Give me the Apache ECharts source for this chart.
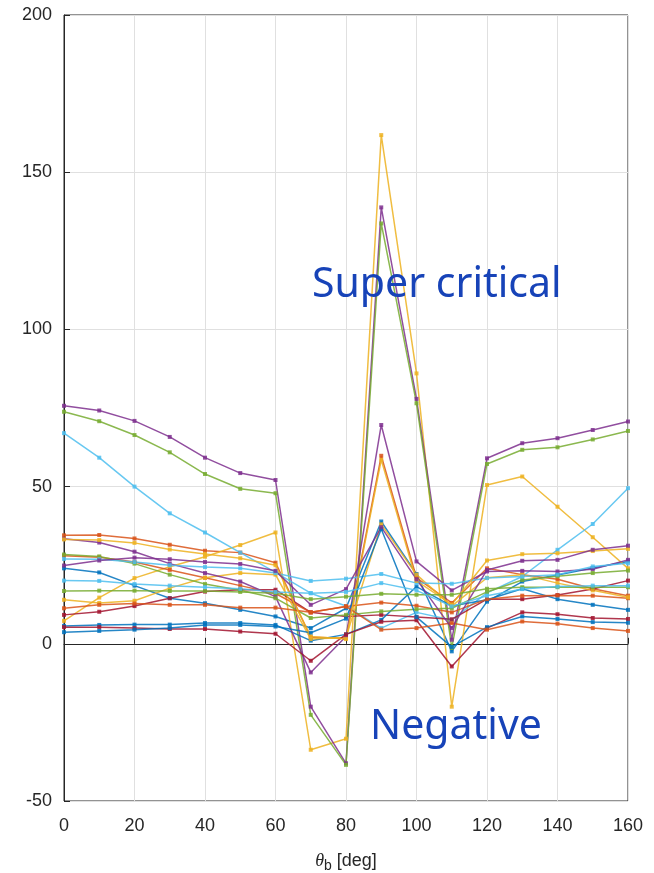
<!DOCTYPE html>
<html>
<head>
<meta charset="utf-8">
<script src="https://cdn.jsdelivr.net/npm/echarts@6/dist/echarts.min.js"></script>
<style>
  html, body { margin: 0; padding: 0; background: #fff; }
  #chart { width: 654px; height: 873px; }
</style>
</head>
<body>
<div id="chart"></div>
<script>
// 横轴角度
var thetaB = [0, 10, 20, 30, 40, 50, 60, 70, 80, 90, 100, 110, 120, 130, 140, 150, 160];
var yTicks = [-50, 0, 50, 100, 150, 200];

// 各曲线数据
var B1 = [24, 22.7, 18.5, 14.5, 12.9, 10.8, 8.7, 5, 11.3, 38.9, 22.2, -2.4, 13.4, 19.8, 21.9, 24.1, 26.2];
var O1 = [34.5, 34.6, 33.5, 31.5, 29.6, 29, 25.8, 2.1, 1.8, 59.8, 21, 13, 24, 22, 20.5, 17.5, 15.3];
var Y1 = [7.3, 14.7, 20.9, 24.5, 27.7, 31.4, 35.4, -33.7, -30.2, 161.8, 86, -20, 50.5, 53.2, 43.6, 33.9, 24];
var P1 = [75.7, 74.2, 70.9, 65.8, 59.2, 54.3, 52.1, -20, -38, 138.8, 77.9, 1.3, 59, 63.8, 65.4, 68, 70.7];
var G1 = [73.8, 70.8, 66.4, 60.9, 54, 49.3, 47.9, -22.6, -38.5, 133.7, 76.5, -1.3, 57.2, 61.7, 62.5, 65, 67.7];
var C1 = [67, 59.2, 50, 41.5, 35.4, 29, 22.7, 16.1, 12, 5, 10, 7.6, 16.2, 21.4, 29.9, 38.1, 49.5];
var R1 = [9.2, 10.2, 12, 14.5, 16.6, 17.2, 17.2, 10, 8.7, 9.2, 8.5, 7.8, 14.2, 14.2, 15.5, 17.4, 20.1];
var B2 = [5.7, 6, 6.1, 6.1, 6.6, 6.6, 6, 1, 3, 7.6, 18.2, 12, 14, 17.5, 14.2, 12.4, 10.8];
var O2 = [28, 27.5, 26, 23.5, 21, 18.5, 16, 10, 11.9, 13.1, 12.1, 10, 14.2, 15.3, 15.4, 15.3, 14.5];
var Y2 = [14, 13, 13.7, 17.7, 21, 22.5, 22, 1.5, 2, 38, 22, 12, 21, 22, 19.3, 17, 14.8];
var P2 = [33.4, 32.2, 29.3, 25.5, 22.5, 19.8, 15, -9.1, 2.3, 69.6, 26.2, 17, 23, 23.2, 23, 23.7, 26.7];
var G2 = [28.4, 27.8, 25.5, 22, 19, 17, 14.5, 8.2, 9.2, 10.3, 11, 11.3, 16.5, 20.3, 21.5, 22.5, 23.3];
var C2 = [27, 26.9, 26, 25, 24.4, 24, 22.5, 20, 20.7, 22.2, 19.3, 19.1, 20.9, 21.4, 22, 24.6, 25.6];
var R2 = [5.3, 5.3, 5, 4.7, 4.7, 3.9, 3.2, -5.4, 3, 7, 7.5, -7.2, 5, 10, 9.4, 8.2, 7.9];
var B3 = [3.7, 4.1, 4.5, 5, 6, 6, 5.5, 3.5, 8, 36.5, 8.5, -1, 5.3, 8.7, 7.9, 6.9, 6.7];
var O3 = [11.3, 12.4, 12.8, 12.4, 12.4, 11.5, 11.5, 10, 11.9, 4.5, 5, 6.6, 4.5, 7.1, 6.4, 5, 4.1];
var Y3 = [33.2, 33, 32.1, 30, 28.6, 27.2, 25, 2.3, 1.5, 58.5, 20, 12.5, 26.5, 28.5, 28.8, 29.5, 30.2];
var P3 = [24.9, 26.5, 27.4, 26.9, 26, 25.4, 23.2, 12.4, 17.4, 37.1, 20.5, 5, 23.5, 26.4, 26.7, 29.9, 31.2];
var G3 = [16.8, 16.9, 16.9, 16.8, 16.8, 16.5, 16.1, 14.2, 15, 15.9, 15.6, 15.6, 17.5, 18, 18, 18, 18];
var C3 = [20.1, 20, 19, 18.5, 18, 17.5, 16.5, 16.1, 16.5, 19.3, 17, 11.9, 15.3, 17.4, 18.2, 18.5, 18.5];

var allSeries = [B1, O1, Y1, P1, G1, C1, R1, B2, O2, Y2, P2, G2, C2, R2, B3, O3, Y3, P3, G3, C3];
var colors = ['#0072BD', '#D95319', '#EDB120', '#7E2F8E', '#77AC30', '#4DBEEE', '#A2142F'];

var myChart = echarts.init(document.getElementById('chart'));

var series = allSeries.map(function (vals, i) {
    return {
        type: 'line',
        data: thetaB.map(function (t, j) { return [t, vals[j]]; }),
        symbol: 'rect',
        symbolSize: 4,
        lineStyle: { width: 1.5, opacity: 0.85 },
        itemStyle: { color: colors[i % 7], opacity: 0.85 },
        color: colors[i % 7],
        z: 2,
        animation: false
    };
});

var option = {
    backgroundColor: '#fff',
    grid: {
        left: 64, right: 26, top: 15, bottom: 72,
        outerBoundsMode: 'none',
        containLabel: false,
        show: true, borderColor: '#262626', borderWidth: 1
    },
    xAxis: {
        type: 'value',
        min: 0, max: 160, interval: 20,
        axisLine: { show: true, lineStyle: { color: '#262626' } },
        axisTick: { inside: true, length: 6, lineStyle: { color: '#262626' } },
        splitLine: { show: true, lineStyle: { color: '#e0e0e0' } },
        axisLabel: { color: '#262626', fontSize: 18, fontFamily: 'Liberation Sans', margin: 16 },
        name: '{t|θ}{s|b} [deg]',
        nameLocation: 'middle',
        nameGap: 48,
        nameTextStyle: {
            color: '#262626', fontSize: 18, fontFamily: 'Liberation Sans',
            rich: {
                t: { fontSize: 18, fontStyle: 'italic', fontFamily: 'Liberation Serif', color: '#262626' },
                s: { fontSize: 14, color: '#262626', padding: [10, 0, 0, 0] }
            }
        }
    },
    yAxis: {
        type: 'value',
        min: yTicks[0], max: yTicks[yTicks.length - 1], interval: 50,
        axisLine: { show: true, lineStyle: { color: '#262626' } },
        axisTick: { show: true, inside: true, length: 6, lineStyle: { color: '#262626' } },
        splitLine: { show: true, lineStyle: { color: '#e0e0e0' } },
        axisLabel: { color: '#262626', fontSize: 18, fontFamily: 'Liberation Sans', margin: 12 }
    },
    graphic: [
        {
            type: 'text', left: 312, top: 265, z: 100,
            style: { text: 'Super critical', fill: '#1743b8', fontSize: 41, fontFamily: 'Noto Sans' }
        },
        {
            type: 'text', left: 370, top: 707, z: 100,
            style: { text: 'Negative', fill: '#1743b8', fontSize: 41, fontFamily: 'Noto Sans' }
        }
    ],
    series: series
};
myChart.setOption(option);
</script>
</body>
</html>
